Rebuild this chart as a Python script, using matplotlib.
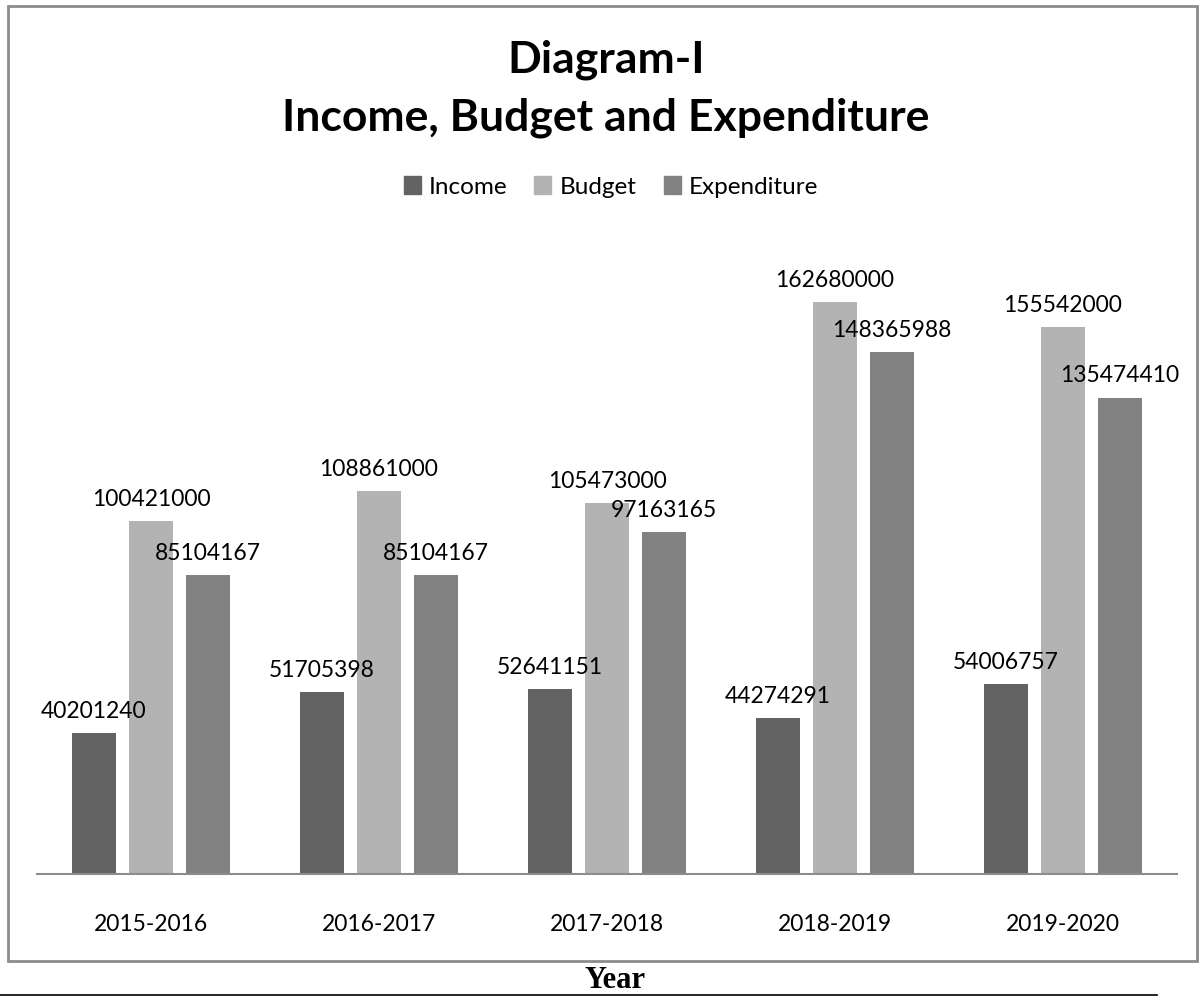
import matplotlib.pyplot as plt
import matplotlib.patches as mpatches
from matplotlib.lines import Line2D
import numpy as np

plt.rcParams['font.family'] = ['Lato', 'DejaVu Sans']

# data
years = ['2015-2016', '2016-2017', '2017-2018', '2018-2019', '2019-2020']
income = [40201240, 51705398, 52641151, 44274291, 54006757]
budget = [100421000, 108861000, 105473000, 162680000, 155542000]
expenditure = [85104167, 85104167, 97163165, 148365988, 135474410]

series = ['Income', 'Budget', 'Expenditure']
colors = ['#636363', '#b3b3b3', '#828282']

W, H = 1203, 996
fig = plt.figure(figsize=(W / 100, H / 100), dpi=100)

# plot area (pixel positions measured on the reference)
ax = fig.add_axes([37 / W, 1 - 874 / H, 1140 / W, (874 - 241) / H])

x = np.arange(len(years))
bw = 0.197
off = 0.25
for i, (vals, col, name) in enumerate(zip([income, budget, expenditure], colors, series)):
    bars = ax.bar(x + (i - 1) * off, vals, width=bw, color=col, label=name, zorder=2)
    ax.bar_label(bars, labels=[str(v) for v in vals], padding=8, fontsize=16.5, color='black')

ax.set_xlim(-0.5, len(years) - 0.5)
ax.set_ylim(0, 180000000)
ax.set_xticks(x)
ax.set_xticklabels(years, fontsize=16.5)
ax.tick_params(axis='x', length=0, pad=29)
ax.set_yticks([])
for s in ['top', 'right', 'left']:
    ax.spines[s].set_visible(False)
ax.spines['bottom'].set_color('#8c8c8c')
ax.spines['bottom'].set_linewidth(1.5)
ax.patch.set_alpha(0)

# titles
fig.text(606 / W, 1 - 73 / H, 'Diagram-I', ha='center', va='baseline',
         fontsize=32, fontweight='bold')
fig.text(606 / W, 1 - 131 / H, 'Income, Budget and Expenditure', ha='center', va='baseline',
         fontsize=32, fontweight='bold')

# legend
handles = [mpatches.Patch(color=c, label=n) for c, n in zip(colors, series)]
fig.legend(handles=handles, loc='center', bbox_to_anchor=(611 / W, 1 - 187 / H),
           ncol=3, frameon=False, fontsize=17.5, handlelength=0.7, handleheight=0.7,
           handletextpad=0.35, columnspacing=1.1)

# chart border
fig.patches.append(mpatches.Rectangle((8 / W, 1 - 961 / H), (1197 - 8) / W, (961 - 6) / H,
                                      transform=fig.transFigure, fill=False,
                                      edgecolor='#8c8c8c', linewidth=2))

# axis title below the chart box and the rule under it
fig.text(615 / W, 1 - 995 / H, 'Year', ha='center', va='bottom',
         fontsize=22, fontweight='bold', family='Liberation Serif')
fig.lines.append(Line2D([0, 1157 / W], [1 - 995 / H, 1 - 995 / H],
                        transform=fig.transFigure, color='black', linewidth=1.2))

fig.savefig('out.png', dpi=100)
